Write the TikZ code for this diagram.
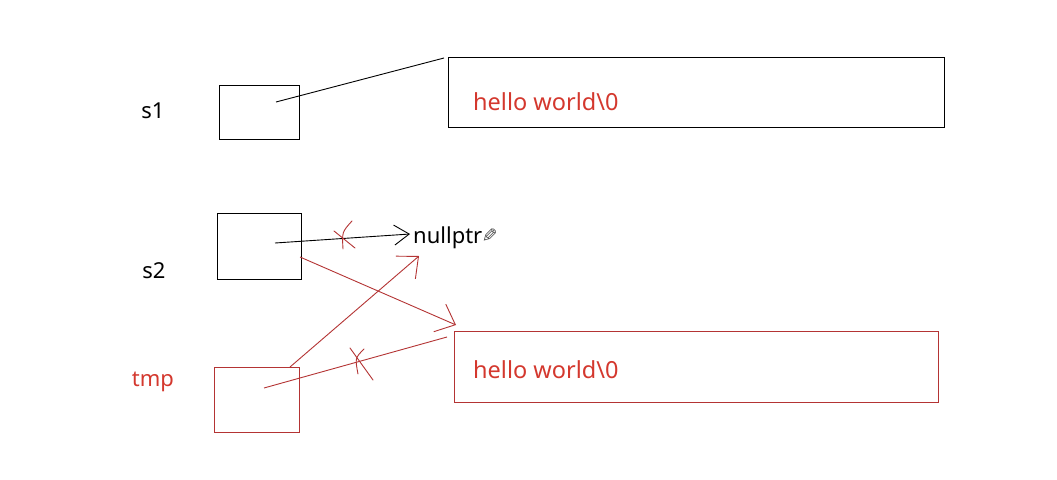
\documentclass[tikz,border=0pt]{standalone}
\usepackage{fontspec}
\setmainfont{Noto Sans}
\newfontfamily\symfont{DejaVu Sans}
\usetikzlibrary{arrows.meta}
\definecolor{redtxt}{RGB}{212,56,46}
\definecolor{redln}{RGB}{180,52,52}
\tikzset{
  lbl/.style={font=\fontsize{22}{26}\selectfont, inner sep=0pt},
  strlbl/.style={font=\fontsize{23.5}{28}\selectfont, inner sep=0pt, text=redtxt, anchor=west},
  boxblack/.style={draw=black, line width=0.9pt, inner sep=0pt},
  boxred/.style={draw=redln, line width=0.9pt, inner sep=0pt},
  conn/.style={line width=0.9pt},
  redconn/.style={line width=0.9pt, draw=redln},
  redtip/.style={-{Straight Barb[length=17pt,width=30pt,line width=0.9pt]}},
  blacktip/.style={-{Straight Barb[length=15pt,width=20pt,line width=0.9pt]}},
  xmark/.style={draw=redln, line width=0.9pt, line cap=round}
}
\begin{document}
\begin{tikzpicture}[x=1pt,y=-1pt]
\useasboundingbox (0,0) rectangle (1057,479);
\fill[white] (0,0) rectangle (1057,479);

% labels
\node[lbl] (s1) at (153,111) {s1};
\node[lbl] (s2) at (154,271) {s2};
\node[lbl, text=redtxt] (tmp) at (153,382) {tmp};

% pointer boxes
\node[boxblack, minimum width=80pt, minimum height=54pt] (p1) at (259,112) {};
\node[boxblack, minimum width=84pt, minimum height=66pt] (p2) at (259,246) {};
\node[boxred, minimum width=85pt, minimum height=65pt] (p3) at (256.5,399.5) {};

% string boxes
\node[boxblack, minimum width=496pt, minimum height=70pt] (big1) at (696,92) {};
\node[boxred, minimum width=484pt, minimum height=71pt] (big2) at (696,366.5) {};
\node[strlbl] (t1) at (473,102) {hello world\textbackslash 0};
\node[strlbl] (t2) at (473,370) {hello world\textbackslash 0};

% nullptr
\node[lbl, anchor=west] (np) at (413,238) {nullptr};
\node[inner sep=0pt, anchor=west, text=black!70, font=\symfont\fontsize{19}{19}\selectfont] (pen) at ([xshift=-1pt,yshift=2pt]np.east) {\scalebox{-1}[1]{✎}};

% connector end points
\coordinate (c1) at (276,102);
\coordinate (e1) at (444,58);
\coordinate (c2) at (275,243);
\coordinate (e2) at (410,234);
\coordinate (c3) at (300,257);
\coordinate (e3) at (456,325);
\coordinate (c4) at (290,367);
\coordinate (e4) at (419,256);
\coordinate (c5) at (264,388);
\coordinate (e5) at (447,337);

% connectors
\draw[conn] (c1) -- (e1);
\draw[conn, blacktip] (c2) -- (e2);
\draw[redconn, redtip] (c3) -- (e3);
\draw[redconn, redtip] (c4) -- (e4);
\draw[redconn] (c5) -- (e5);

% crosses
\draw[xmark] (334,231) -- (355,248);
\draw[xmark] (352,221) .. controls (342,232) .. (343,249);
\draw[xmark] (350,348) -- (373,380);
\draw[xmark] (364,349) .. controls (355,358) .. (358,374);
\end{tikzpicture}
\end{document}
